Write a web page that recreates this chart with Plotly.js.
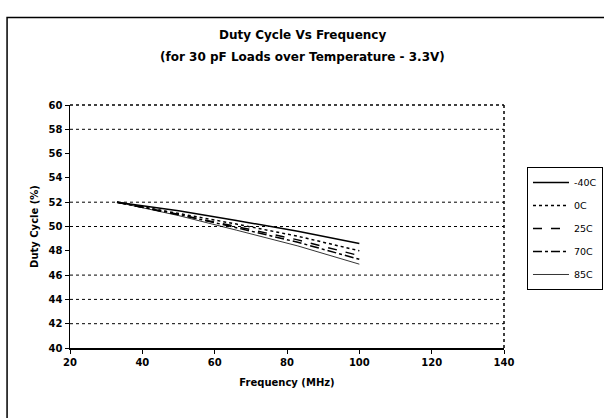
<!DOCTYPE html>
<html>
<head>
<meta charset="utf-8">
<script src="https://cdn.plot.ly/plotly-3.0.1.min.js"></script>
<style>html,body{margin:0;padding:0;background:#fff;}#chart{width:604px;height:418px;}</style>
</head>
<body>
<div id="chart"></div>
<script>
const frequency = [33, 50, 66, 83, 100];
const tempM40 = [52.0, 51.3, 50.5, 49.6, 48.6];
const temp0 = [52.0, 51.1, 50.2, 49.2, 48.0];
const temp25 = [52.0, 51.0, 50.0, 48.9, 47.6];
const temp70 = [52.0, 51.0, 49.9, 48.7, 47.3];
const temp85 = [52.0, 50.9, 49.7, 48.4, 46.9];
const seriesNames = ['-40C', '0C', '25C', '70C', '85C'];
const gridValues = [42, 44, 46, 50, 52, 58];
const titleLines = ['Duty Cycle Vs Frequency', '(for 30 pF Loads over Temperature - 3.3V)'];

const seriesData = [tempM40, temp0, temp25, temp70, temp85];
const styles = [
  {dash: 'solid', width: 1.5},
  {dash: 'dot', width: 1.5},
  {dash: 'dash', width: 1.5},
  {dash: 'dashdot', width: 1.5},
  {dash: 'solid', width: 0.8}
];
const traces = seriesData.map((ys, i) => ({
  x: frequency, y: ys, name: seriesNames[i], type: 'scatter', mode: 'lines',
  legendgroup: 'g' + i,
  line: {color: '#000', dash: styles[i].dash, width: styles[i].width}
}));

const font = {family: 'DejaVu Sans, Liberation Sans, Arial, sans-serif', color: '#000'};
const shapes = gridValues.map(v => ({
  type: 'line', xref: 'paper', x0: 0, x1: 1, yref: 'y', y0: v, y1: v,
  line: {color: '#000', width: 1, dash: 'dot'}, layer: 'below'
}));
shapes.push({type: 'line', xref: 'paper', yref: 'paper', x0: 0, x1: 1, y0: 1, y1: 1, line: {color: '#000', width: 1.5, dash: 'dot'}});
shapes.push({type: 'line', xref: 'paper', yref: 'paper', x0: 1, x1: 1, y0: 0, y1: 1, line: {color: '#000', width: 1.5, dash: 'dot'}});
shapes.push({type: 'rect', xref: 'paper', yref: 'paper', x0: -0.145, x1: 1.6, y0: -0.5, y1: 1.36, line: {color: '#000', width: 1.5}});

const annotations = titleLines.map((t, i) => ({
  text: '<b>' + t + '</b>', xref: 'paper', yref: 'paper', x: 0.535, y: i === 0 ? 1.288 : 1.198,
  xanchor: 'center', yanchor: 'middle', showarrow: false, font: Object.assign({size: 12}, font)
}));

const layout = {
  width: 604, height: 418,
  margin: {l: 70, r: 100, t: 105, b: 70},
  paper_bgcolor: '#fff', plot_bgcolor: '#fff',
  font: Object.assign({size: 10}, font),
  annotations: annotations,
  xaxis: {range: [20, 140], dtick: 20, tick0: 20, showgrid: false, zeroline: false,
    showline: true, linecolor: '#000', linewidth: 1.5, ticks: 'outside', ticklen: 4, tickcolor: '#000',
    tickfont: Object.assign({size: 10, weight: 'bold'}, font),
    title: {text: '<b>Frequency (MHz)</b>', font: Object.assign({size: 10}, font), standoff: 12}},
  yaxis: {range: [40, 60], dtick: 2, tick0: 40, showgrid: false, zeroline: false,
    showline: true, linecolor: '#000', linewidth: 1.5, ticks: 'outside', ticklen: 4, tickcolor: '#000',
    tickfont: Object.assign({size: 10, weight: 'bold'}, font),
    title: {text: '<b>Duty Cycle (%)</b>', font: Object.assign({size: 10}, font), standoff: 8}},
  legend: {xref: 'container', yref: 'container', x: 0.8725, xanchor: 'left', y: 0.6005, yanchor: 'top',
    bordercolor: '#000', borderwidth: 1,
    bgcolor: '#fff', font: Object.assign({size: 9.5}, font), traceorder: 'grouped', tracegroupgap: 4, itemwidth: 36},
  shapes: shapes,
  showlegend: true
};
Plotly.newPlot('chart', traces, layout, {displayModeBar: false, staticPlot: true});
</script>
</body>
</html>
